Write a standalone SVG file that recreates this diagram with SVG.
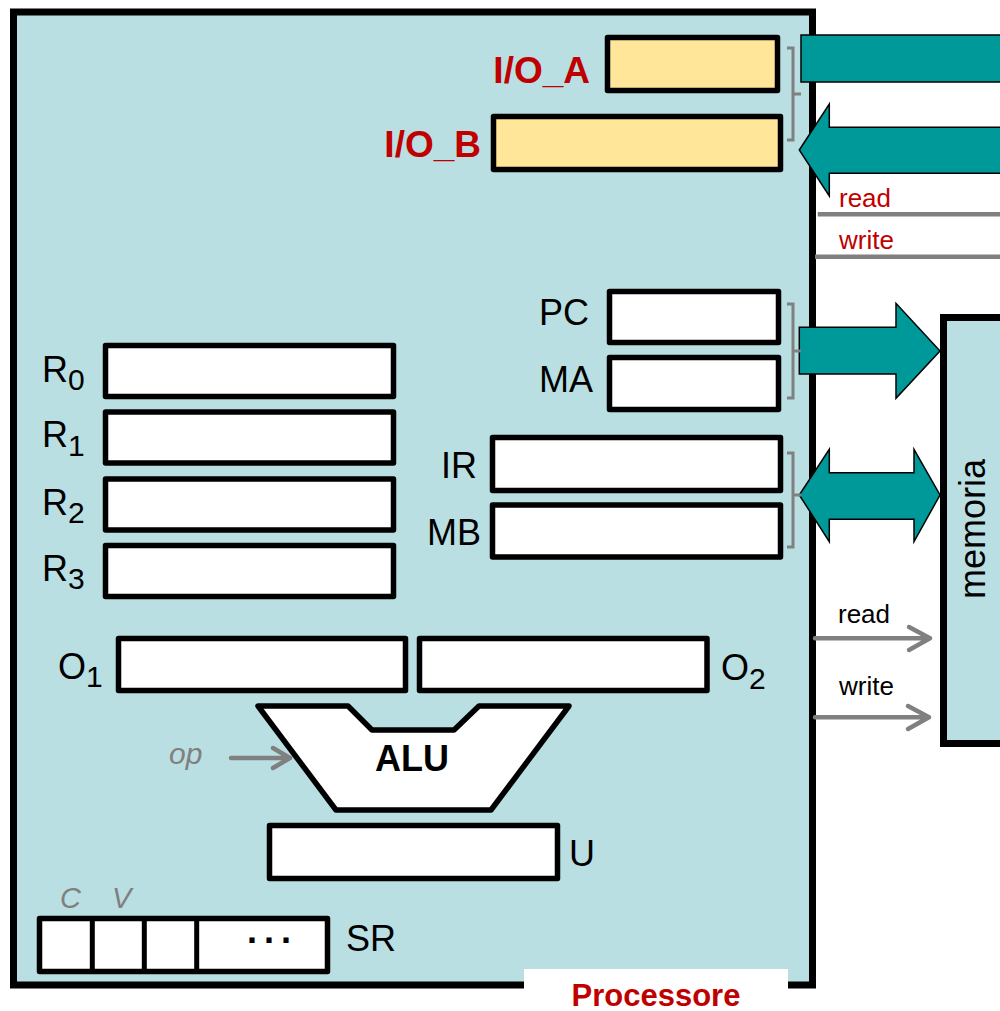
<svg xmlns="http://www.w3.org/2000/svg" width="1000" height="1011" viewBox="0 0 1000 1011">
<style>
.lbl{font-family:"Liberation Sans",Arial,sans-serif;font-size:36px;fill:#000}
.sub{font-family:"Liberation Sans",Arial,sans-serif;font-size:30px;fill:#000}
.io{font-family:"Liberation Sans",Arial,sans-serif;font-size:37px;font-weight:bold;fill:#C00000}
.sig{font-family:"Liberation Sans",Arial,sans-serif;font-size:26px}
.gi{font-family:"Liberation Sans",Arial,sans-serif;font-style:italic;fill:#808080}
.reg{fill:#fff;stroke:#000;stroke-width:5.5;stroke-linejoin:round}
.ioreg{fill:#FFE699;stroke:#000;stroke-width:5.5;stroke-linejoin:round}
.bus{fill:#009999;stroke:#000;stroke-width:1.5;stroke-linejoin:miter}
.br{fill:none;stroke:#808080;stroke-width:3}
.gl{fill:none;stroke:#808080;stroke-width:4.5;stroke-linecap:round;stroke-linejoin:round}
</style>
<rect width="1000" height="1011" fill="#fff"/>
<g id="processore">
<rect x="13.5" y="12" width="799" height="973" fill="#B9DFE2" stroke="#000" stroke-width="7"/>
<rect x="524" y="969" width="264" height="50" fill="#fff"/>
<text x="656" y="1006" text-anchor="middle" font-family="'Liberation Sans',Arial,sans-serif" font-size="31" font-weight="bold" fill="#C00000">Processore</text>
</g>
<g id="memoria">
<rect x="943.5" y="317.5" width="100" height="426" fill="#B9DFE2" stroke="#000" stroke-width="7"/>
<text transform="translate(985,529) rotate(-90)" text-anchor="middle" class="lbl" font-size="37">memoria</text>
</g>
<g id="IO_A">
<rect class="ioreg" x="607.5" y="37.5" width="170" height="53"/>
<text class="io" x="590" y="83" text-anchor="end">I/O_A</text>
</g>
<g id="IO_B">
<rect class="ioreg" x="493.5" y="116.5" width="287" height="53"/>
<text class="io" x="481" y="157" text-anchor="end">I/O_B</text>
</g>
<g id="PC">
<rect class="reg" x="609.5" y="291.5" width="169" height="51"/>
<text class="lbl" x="589" y="325" text-anchor="end">PC</text>
</g>
<g id="MA">
<rect class="reg" x="609.5" y="357.5" width="169" height="52"/>
<text class="lbl" x="593" y="392" text-anchor="end">MA</text>
</g>
<g id="IR">
<rect class="reg" x="492.5" y="437.5" width="288" height="53"/>
<text class="lbl" x="477" y="478" text-anchor="end">IR</text>
</g>
<g id="MB">
<rect class="reg" x="492.5" y="505" width="288" height="52"/>
<text class="lbl" x="481" y="545" text-anchor="end">MB</text>
</g>
<g id="R0">
<rect class="reg" x="105.5" y="345.5" width="288" height="51"/>
<text class="lbl" x="42" y="382">R</text><text class="sub" x="68" y="390">0</text>
</g>
<g id="R1">
<rect class="reg" x="105.5" y="412" width="288" height="51"/>
<text class="lbl" x="42" y="447">R</text><text class="sub" x="68" y="456">1</text>
</g>
<g id="R2">
<rect class="reg" x="105.5" y="479" width="288" height="51"/>
<text class="lbl" x="42" y="515">R</text><text class="sub" x="68" y="523">2</text>
</g>
<g id="R3">
<rect class="reg" x="105.5" y="545.5" width="288" height="51"/>
<text class="lbl" x="42" y="581">R</text><text class="sub" x="68" y="589">3</text>
</g>
<g id="O1">
<rect class="reg" x="118.5" y="638.5" width="287" height="52"/>
<text class="lbl" x="58" y="679">O</text><text class="sub" x="86" y="687">1</text>
</g>
<g id="O2">
<rect class="reg" x="419.5" y="638.5" width="287.5" height="52"/>
<text class="lbl" x="721" y="680">O</text><text class="sub" x="749" y="689">2</text>
</g>
<g id="ALU">
<polygon points="258,706 348,706 372,730 454,730 479,706 569,706 491,810 336,810" fill="#fff" stroke="#000" stroke-width="5.5" stroke-linejoin="round"/>
<text x="412" y="771" text-anchor="middle" font-family="'Liberation Sans',Arial,sans-serif" font-size="36" font-weight="bold">ALU</text>
</g>
<g id="U">
<rect class="reg" x="269.5" y="825.5" width="288" height="53"/>
<text class="lbl" x="569" y="866">U</text>
</g>
<g id="SR">
<rect class="reg" x="39.5" y="918.5" width="288" height="53"/>
<line x1="92.3" y1="918.5" x2="92.3" y2="971.5" stroke="#000" stroke-width="5"/>
<line x1="144.3" y1="918.5" x2="144.3" y2="971.5" stroke="#000" stroke-width="5"/>
<line x1="196.7" y1="918.5" x2="196.7" y2="971.5" stroke="#000" stroke-width="5"/>
<text x="247" y="943" font-family="'Liberation Sans',Arial,sans-serif" font-size="36" font-weight="bold" letter-spacing="7">...</text>
<text class="lbl" x="346" y="951">SR</text>
<text class="gi" x="60" y="908" font-size="29">C</text>
<text class="gi" x="112" y="908" font-size="29">V</text>
</g>
<g id="connectors">
<rect class="bus" x="801" y="35" width="210" height="47"/>
<polygon class="bus" points="799.3,150 829.3,104 829.3,127.3 1011,127.3 1011,173.3 829.3,173.3 829.3,196"/>
<polygon class="bus" points="799.3,327.3 896,327.3 896,303.3 940,351 896,398.3 896,374 799.3,374"/>
<polygon class="bus" points="799.3,495 829.3,449.3 829.3,472.7 914,472.7 914,449.3 940,495 914,541.7 914,519.3 829.3,519.3 829.3,541.7"/>
<path class="br" d="M787,48 H793 V140 H787 M793,94 H801"/>
<path class="br" d="M787,304 H793 V398 H787 M793,351 H801"/>
<path class="br" d="M787,453 H793 V547 H787 M793,495 H801"/>
<line x1="817.7" y1="214.3" x2="1000" y2="214.3" stroke="#808080" stroke-width="4.5"/>
<line x1="815" y1="256.7" x2="1000" y2="256.7" stroke="#808080" stroke-width="4.5"/>
<text class="sig" x="839" y="207" fill="#C00000">read</text>
<text class="sig" x="839" y="249" fill="#C00000">write</text>
<path class="gl" d="M815,638.3 H930 M909,627 L930,638.3 L909,650"/>
<path class="gl" d="M815,717.3 H929 M908,706 L929,717.3 L908,729"/>
<text class="sig" x="838" y="622.7" fill="#000">read</text>
<text class="sig" x="839" y="695" fill="#000">write</text>
<path class="gl" d="M231,758 H290 M273,748 L290,758 L273,768"/>
<text class="gi" x="169" y="764" font-size="30">op</text>
</g>
</svg>
